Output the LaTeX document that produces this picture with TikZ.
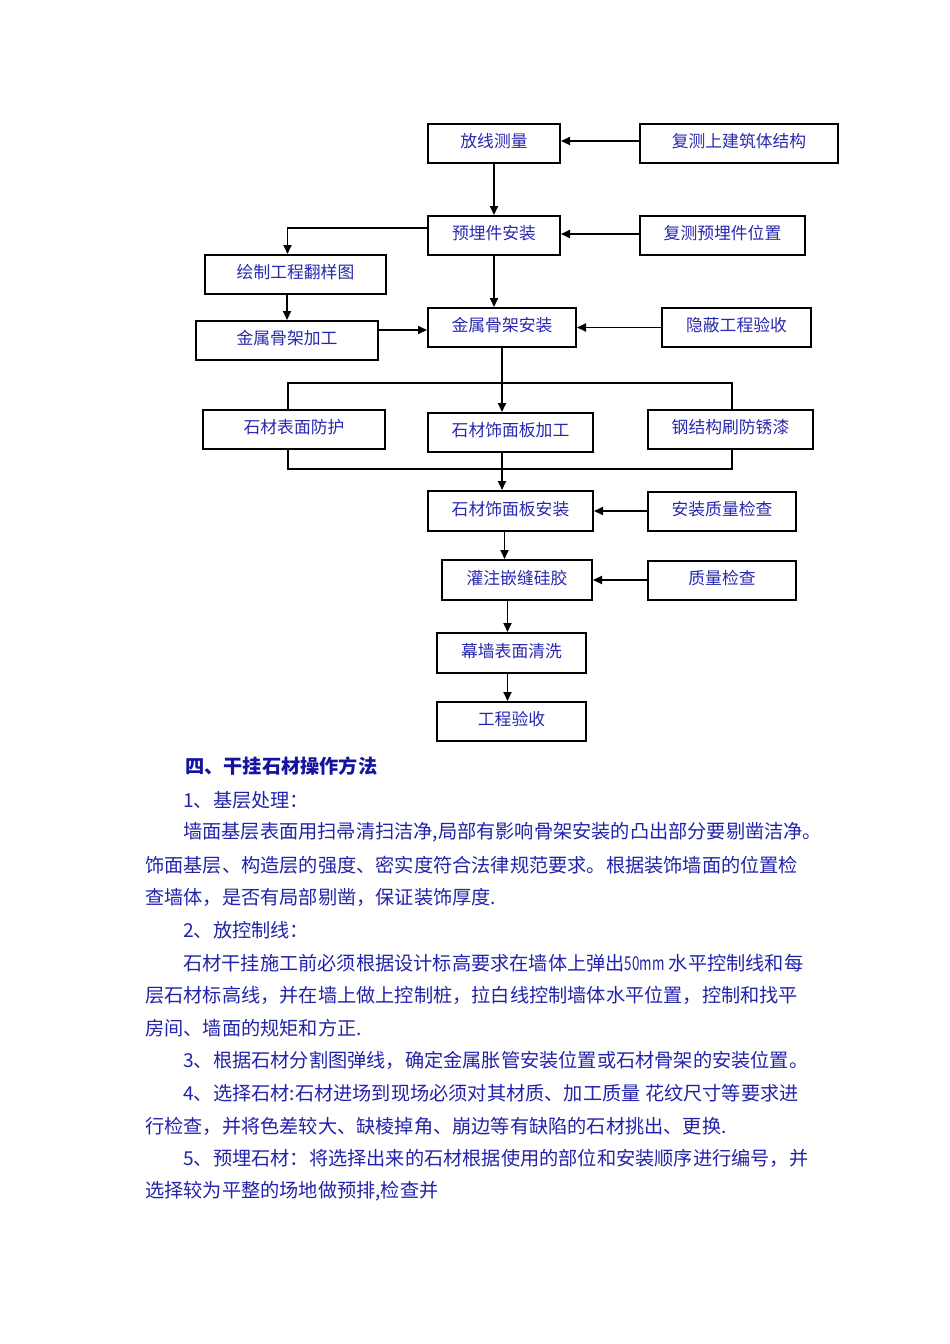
\documentclass[tikz,border=0pt]{standalone}
\usepackage{fontspec}
\usepackage{graphicx}
\setmainfont{Noto Sans CJK SC}
\usetikzlibrary{arrows.meta}
\XeTeXlinebreaklocale "zh"
\XeTeXlinebreakskip=0pt plus 3pt
\definecolor{boxblue}{RGB}{40,40,175}
\definecolor{bodyblue}{RGB}{35,35,170}
\definecolor{headblue}{RGB}{20,20,160}
\tikzset{
  box/.style={draw=black, line width=2pt, inner sep=0pt, minimum height=39pt,
    text=boxblue, font=\fontsize{16.8}{18}\selectfont, text height=14.8pt, text depth=6pt},
  conn/.style={line width=1.8pt, draw=black},
  arr/.style={conn, -{Triangle[length=9pt,width=8pt]}},
  body/.style={anchor=west, inner sep=0pt, text=bodyblue, font=\fontsize{19.2}{22}\selectfont},
  head/.style={anchor=west, inner sep=0pt, text=headblue, font=\fontsize{19.2}{22}\selectfont\bfseries},
}
\begin{document}
\begin{tikzpicture}[x=1pt,y=-1pt]
\useasboundingbox (0,0) rectangle (950,1344);

% ---------- flow chart boxes ----------
\node[box, minimum width=132pt] (fx)  at (494,143.5)   {放线测量};
\node[box, minimum width=198pt] (fc)  at (739,143.5)   {复测上建筑体结构};
\node[box, minimum width=132pt] (yml) at (494,235.5)   {预埋件安装};
\node[box, minimum width=165pt] (fcy) at (722.5,235.5) {复测预埋件位置};
\node[box, minimum width=181pt] (hz)  at (295.5,274.5) {绘制工程翻样图};
\node[box, minimum width=182pt] (jgj) at (287,340.5)   {金属骨架加工};
\node[box, minimum width=148pt] (jaz) at (502,327.5)   {金属骨架安装};
\node[box, minimum width=149pt] (yb)  at (736.5,327.5) {隐蔽工程验收};
\node[box, minimum width=182pt] (sfh) at (294,429.5)   {石材表面防护};
\node[box, minimum width=165pt] (sjg) at (510.5,432.5) {石材饰面板加工};
\node[box, minimum width=165pt] (gjg) at (730.5,429.5) {钢结构刷防锈漆};
\node[box, minimum width=165pt, minimum height=40pt] (saz) at (510.5,511) {石材饰面板安装};
\node[box, minimum width=148pt] (azj) at (722,511)     {安装质量检查};
\node[box, minimum width=150pt, minimum height=40pt] (gz) at (517,580) {灌注嵌缝硅胶};
\node[box, minimum width=148pt] (zj)  at (722,580)     {质量检查};
\node[box, minimum width=149pt, minimum height=40pt] (mq) at (511.5,653) {幕墙表面清洗};
\node[box, minimum width=149pt] (ys)  at (511.5,721.5) {工程验收};

% ---------- helper coordinates ----------
\coordinate (tl) at (287.6,382.7);
\coordinate (tr) at (731.6,382.7);
\coordinate (bl) at (287.6,469.3);
\coordinate (br) at (731.6,469.3);
\coordinate (p1) at ([yshift=-2.5pt]jaz.west);
\coordinate (xa) at (504.5,0);
\coordinate (xb) at (507.5,0);

% ---------- connectors ----------
\draw[arr] ([yshift=2.5pt]fc.west) -- ([yshift=2.5pt]fx.east);
\draw[arr] (fx.south) -- (yml.north);
\draw[arr] ([yshift=1.5pt]fcy.west) -- ([yshift=1.5pt]yml.east);
\draw[arr] ([yshift=7.5pt]yml.west) -| ([xshift=-8pt]hz.north);
\draw[arr] (yml.south) -- (yml.south |- jaz.north);
\draw[arr] (jgj.north |- hz.south) -- (jgj.north);
\draw[arr] (jgj.east |- p1) -- (p1);
\draw[arr] (yb.west) -- (jaz.east);
\draw[arr] (jaz.south) -- (jaz.south |- sjg.north);
\draw[conn] (tl |- sfh.north) -- (tl) -- (tr) -- (tr |- gjg.north);
\draw[conn] (bl |- sfh.south) -- (bl) -- (br) -- (br |- gjg.south);
\draw[arr] (jaz.south |- sjg.south) -- (jaz.south |- saz.north);
\draw[arr] (azj.west) -- (saz.east);
\draw[arr] (xa |- saz.south) -- (xa |- gz.north);
\draw[arr] (zj.west) -- (gz.east);
\draw[arr] (xb |- gz.south) -- (xb |- mq.north);
\draw[arr] (xb |- mq.south) -- (xb |- ys.north);

% ---------- text ----------
\node[head] (h) at (185,766) {四、干挂石材操作方法};
\node[body] (l0)  at (183,800)    {1、基层处理：};
\node[body] (l1)  at (183,832.6)  {墙面基层表面用扫帚清扫洁净,局部有影响骨架安装的凸出部分要剔凿洁净。};
\node[body, text width=660pt, align=justify] (l2) at (145,865.2)
  {\parfillskip=0pt 饰面基层、构造层的强度、密实度符合法律规范要求。根据装饰墙面的位置检};
\node[body] (l3)  at (145,897.8)  {查墙体，是否有局部剔凿，保证装饰厚度.};
\node[body] (l4)  at (183,930.4)  {2、放控制线：};
\node[body] (l5)  at (183,963)    {石材干挂施工前必须根据设计标高要求在墙体上弹出\scalebox{0.7}[1]{50mm} 水平控制线和每};
\node[body] (l6)  at (145,995.6)  {层石材标高线，并在墙上做上控制桩，拉白线控制墙体水平位置，控制和找平};
\node[body] (l7)  at (145,1028.2) {房间、墙面的规矩和方正.};
\node[body] (l8)  at (183,1060.8) {3、根据石材分割图弹线，确定金属胀管安装位置或石材骨架的安装位置。};
\node[body, text width=622pt, align=justify] (l9) at (183,1093.4)
  {\parfillskip=0pt 4、选择石材:石材进场到现场必须对其材质、加工质量 花纹尺寸等要求进};
\node[body] (l10) at (145,1126)   {行检查，并将色差较大、缺棱掉角、崩边等有缺陷的石材挑出、更换.};
\node[body] (l11) at (183,1158.6) {5、预埋石材：将选择出来的石材根据使用的部位和安装顺序进行编号，并};
\node[body] (l12) at (145,1191.2) {选择较为平整的场地做预排,检查并};
\end{tikzpicture}
\end{document}
